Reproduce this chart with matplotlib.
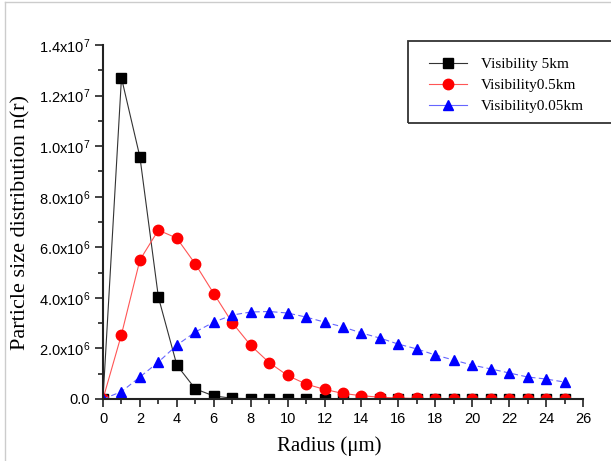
import numpy as np
import matplotlib.pyplot as plt
from matplotlib.ticker import MultipleLocator, FuncFormatter
from matplotlib.patches import Rectangle
from matplotlib.lines import Line2D

plt.rcParams['mathtext.fontset'] = 'custom'
plt.rcParams['mathtext.rm'] = 'Liberation Sans'
plt.rcParams['mathtext.it'] = 'Liberation Sans'

# data
radius = list(range(0, 26))
vis_5km = [0, 12.7e6, 9.57e6, 4.03e6, 1.34e6, 0.40e6, 0.12e6, 0.03e6, 0.01e6,
           0, 0, 0, 0, 0, 0, 0, 0, 0, 0, 0, 0, 0, 0, 0, 0, 0]
vis_05km = [0, 2.55e6, 5.5e6, 6.68e6, 6.36e6, 5.34e6, 4.17e6, 3.02e6, 2.12e6,
            1.44e6, 0.93e6, 0.59e6, 0.38e6, 0.22e6, 0.13e6, 0.07e6, 0.04e6,
            0.02e6, 0.01e6, 0.005e6, 0, 0, 0, 0, 0, 0]
vis_005km = [0, 0.29e6, 0.87e6, 1.46e6, 2.13e6, 2.65e6, 3.04e6, 3.32e6, 3.44e6,
             3.46e6, 3.40e6, 3.24e6, 3.04e6, 2.85e6, 2.61e6, 2.41e6, 2.17e6,
             1.98e6, 1.74e6, 1.54e6, 1.34e6, 1.19e6, 1.03e6, 0.87e6, 0.79e6, 0.67e6]
labels = ["Visibility 5km", "Visibility0.5km", "Visibility0.05km"]

fig = plt.figure(figsize=(6.11, 4.61), dpi=100)
ax = fig.add_axes([103/611, 1-399/461, 480/611, 354/461])

ax.plot(radius, vis_5km, color='#333333', lw=0.8, marker='s', ms=6.5,
        mfc='black', mec='black', label=labels[0])
ax.plot(radius, vis_05km, color='#ff5555', lw=0.8, marker='o', ms=7.5,
        mfc='red', mec='red', label=labels[1])
ax.plot(radius, vis_005km, color='#6666ff', lw=0.8, ls=(0, (5, 3)), marker='^', ms=7.5,
        mfc='blue', mec='blue', label=labels[2])

ax.set_xlim(0, 26)
ax.set_ylim(0, 1.4e7)
ax.xaxis.set_major_locator(MultipleLocator(2))
ax.xaxis.set_minor_locator(MultipleLocator(1))
ax.yaxis.set_major_locator(MultipleLocator(2e6))
ax.yaxis.set_minor_locator(MultipleLocator(1e6))

def sci(v, pos):
    if v <= 0:
        return "0.0"
    e = int(np.floor(np.log10(v)))
    return f"{v/10**e:.1f}x10$^{{{e}}}$"

ax.yaxis.set_major_formatter(FuncFormatter(sci))

for s in ['top', 'right']:
    ax.spines[s].set_visible(False)
for s in ['left', 'bottom']:
    ax.spines[s].set_linewidth(1.5)
    ax.spines[s].set_color('#222222')

ax.tick_params(which='major', direction='out', length=6, width=1.2, colors='#222222',
               labelsize=10.5, labelcolor='black')
ax.tick_params(which='minor', direction='out', length=3.5, width=1.2, colors='#222222')
for t in ax.get_xticklabels() + ax.get_yticklabels():
    t.set_fontfamily('Liberation Sans')

ax.set_xlabel("Radius (μm)", family='Liberation Serif', fontsize=15)
ax.set_ylabel("Particle size distribution n(r)", family='Liberation Serif', fontsize=16)
ax.xaxis.set_label_coords(0.471, -0.104)
ax.yaxis.set_label_coords(-0.152, 0.5)

# legend box runs past the right edge of the picture
fig.patches.append(Rectangle((408/611, 1-123/461), 0.4, 82/461, transform=fig.transFigure,
                             fill=False, ec='#333333', lw=1.3))
handles = [
    Line2D([], [], color='#333333', lw=0.8, marker='s', ms=6.5, mfc='black', mec='black'),
    Line2D([], [], color='#ff5555', lw=0.8, marker='o', ms=7.5, mfc='red', mec='red'),
    Line2D([], [], color='#6666ff', lw=0.8, marker='^', ms=7.5, mfc='blue', mec='blue'),
]
fig.legend(handles, labels, loc='upper left', bbox_to_anchor=(421/611, 1-50/461),
           frameon=False, prop={'family': 'Liberation Serif', 'size': 11},
           handlelength=2.5, labelspacing=0.48, handletextpad=0.9, borderpad=0)

# light frame lines at the top and left edges
fig.lines.append(Line2D([5/611, 5/611], [0, 1-2/461], transform=fig.transFigure, color='#cccccc', lw=1))
fig.lines.append(Line2D([5/611, 1], [1-2/461, 1-2/461], transform=fig.transFigure, color='#cccccc', lw=1))

fig.savefig("out.png", dpi=100)
